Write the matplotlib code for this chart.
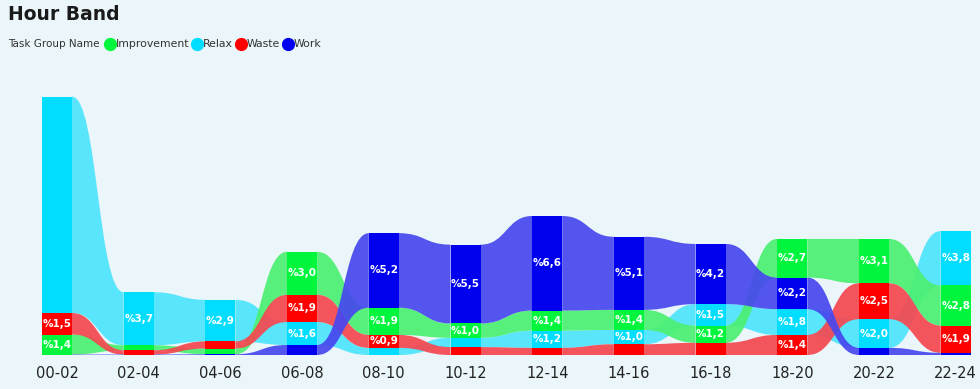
import matplotlib
matplotlib.use("Agg")
import matplotlib.pyplot as plt
from matplotlib.path import Path
from matplotlib.patches import PathPatch, Rectangle
from matplotlib.lines import Line2D
import numpy as np

categories = ['00-02', '02-04', '04-06', '06-08', '08-10', '10-12',
              '12-14', '14-16', '16-18', '18-20', '20-22', '22-24']
series_names = ['Improvement', 'Relax', 'Waste', 'Work']
improvement = [1.4, 0.35, 0.4, 3.0, 1.9, 1.0, 1.4, 1.4, 1.2, 2.7, 3.1, 2.8]
relax = [15.1, 3.7, 2.9, 1.6, 0.5, 0.65, 1.2, 1.0, 1.5, 1.8, 2.0, 3.8]
waste = [1.5, 0.3, 0.5, 1.9, 0.9, 0.55, 0.5, 0.75, 0.85, 1.4, 2.5, 1.9]
work = [0.03, 0.03, 0.05, 0.7, 5.2, 5.5, 6.6, 5.1, 4.2, 2.2, 0.5, 0.15]

bar_colors = {'Improvement': '#00f53d', 'Relax': '#00ddff',
              'Waste': '#ff0000', 'Work': '#0000ee'}
ribbon_colors = {'Improvement': '#4cf071', 'Relax': '#4de4fc',
                 'Waste': '#f5474f', 'Work': '#4747ee'}
bg = '#eaf6fa'

data = {'Improvement': improvement, 'Relax': relax, 'Waste': waste, 'Work': work}
n = len(categories)

# compute stacking: largest on top
bottoms = {s: [0.0] * n for s in series_names}
tops = {s: [0.0] * n for s in series_names}
for i in range(n):
    order = sorted(series_names, key=lambda s: data[s][i])  # smallest at bottom
    y = 0.0
    for s in order:
        bottoms[s][i] = y
        y += data[s][i]
        tops[s][i] = y

fig = plt.figure(figsize=(9.8, 3.89), dpi=100, facecolor=bg)
ax = fig.add_axes([0, 34 / 389, 1, 295 / 389], facecolor=bg)
spacing = 81.7
x0 = 57
ax.set_xlim(-x0 / spacing, (980 - x0) / spacing)
ax.set_ylim(0, 295 / 14.33)
for sp in ax.spines.values():
    sp.set_visible(False)
ax.set_yticks([])
ax.set_xticks(range(n))
ax.set_xticklabels(categories, fontsize=10.5, color='#222222', family='DejaVu Sans')
ax.tick_params(axis='x', length=0, pad=8)

bw = 30 / spacing

draw_order = ['Relax', 'Improvement', 'Waste', 'Work']
for s in draw_order:
    for i in range(n - 1):
        xr = i + bw / 2
        xl = i + 1 - bw / 2
        m = (xr + xl) / 2
        t0, t1 = tops[s][i], tops[s][i + 1]
        b0, b1 = bottoms[s][i], bottoms[s][i + 1]
        verts = [(xr, t0), (m, t0), (m, t1), (xl, t1),
                 (xl, b1), (m, b1), (m, b0), (xr, b0), (xr, t0)]
        codes = [Path.MOVETO, Path.CURVE4, Path.CURVE4, Path.CURVE4,
                 Path.LINETO, Path.CURVE4, Path.CURVE4, Path.CURVE4, Path.CLOSEPOLY]
        ax.add_patch(PathPatch(Path(verts, codes), facecolor=ribbon_colors[s],
                               edgecolor='none', alpha=0.92, zorder=2))

for s in series_names:
    for i in range(n):
        v = data[s][i]
        ax.add_patch(Rectangle((i - bw / 2, bottoms[s][i]), bw, v,
                               facecolor=bar_colors[s], edgecolor='none', zorder=3))
        if 0.88 <= v < 10:
            label = '%' + f'{v:.1f}'.replace('.', ',')
            ax.text(i, bottoms[s][i] + v / 2, label, ha='center', va='center',
                    color='white', fontsize=7.5, fontweight='bold', zorder=4)

fig.text(8 / 980, 1 - 15 / 389, 'Hour Band', fontsize=13.5, fontweight='bold',
         color='#1a1a1a', va='center', ha='left')

# legend
fig.canvas.draw()
renderer = fig.canvas.get_renderer()
ly = 1 - 44 / 389
t = fig.text(8 / 980, ly, 'Task Group Name', fontsize=7.5, color='#333333',
             va='center', ha='left')
bb = t.get_window_extent(renderer)
xpos = bb.x1 + 5
for s in series_names:
    fig.add_artist(Line2D([(xpos + 5) / 980], [ly], marker='o', markersize=8.5,
                          color=bar_colors[s], transform=fig.transFigure,
                          linestyle='none'))
    tt = fig.text((xpos + 11) / 980, ly, s, fontsize=7.8, color='#333333',
                  va='center', ha='left')
    bb2 = tt.get_window_extent(renderer)
    xpos = bb2.x1 + 3

fig.savefig('out.png', dpi=100, facecolor=bg)
